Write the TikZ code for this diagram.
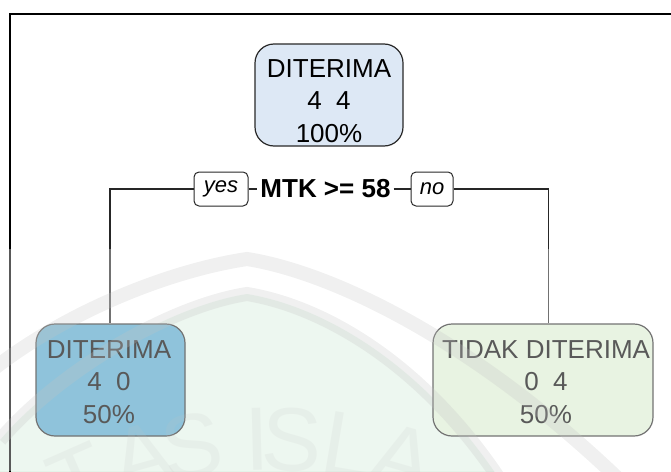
\documentclass[tikz,border=0pt]{standalone}
\usepackage{fontspec}
\setmainfont{Liberation Sans}
\usetikzlibrary{positioning}

\definecolor{wurzel}{RGB}{221,232,245}
\definecolor{blatta}{RGB}{83,164,200}
\definecolor{blattb}{RGB}{220,238,211}
\definecolor{rahmen}{RGB}{40,40,40}
\definecolor{mint}{RGB}{228,243,233}
\definecolor{band}{RGB}{195,195,195}

\begin{document}
\begin{tikzpicture}[x=1pt, y=-1pt,
		kasten/.style={draw=rahmen, line width=1.2pt, rounded corners=19pt, inner sep=0pt},
		inhalt/.style={align=center, font=\fontsize{26}{32.5}\selectfont, inner sep=0pt, anchor=north},
		zweig/.style={draw=rahmen, line width=1pt, rounded corners=5pt, inner sep=0pt, minimum height=34pt, font=\fontsize{22}{26}\selectfont\itshape},
		linie/.style={line width=1.2pt, black!85}]

		\useasboundingbox (0,0) rectangle (671,471);

		% Wasserzeichen (Hintergrund)
		\fill[mint] (0,440) .. controls (60,370) and (170,306) .. (247,294)
			.. controls (320,306) and (420,360) .. (500,480) -- (0,480) -- cycle;

		% Rahmen
		\draw[line width=2pt] (10,475) -- (10,14) -- (675,14);

		% Knoten
		\node[kasten, fill=wurzel, minimum width=148pt, minimum height=102pt] (wurzel) at (329,95) {};
		\node[inhalt] (wurzel-t) at (329,59) {DITERIMA\\4\ \ 4\\100\%};

		\node[kasten, fill=blatta, minimum width=149pt, minimum height=112pt] (links) at (110.5,380) {};
		\node[inhalt] (links-t) at (109,340) {DITERIMA\\4\ \ 0\\50\%};

		\node[kasten, fill=blattb, minimum width=220pt, minimum height=112pt] (rechts) at (543,380) {};
		\node[inhalt] (rechts-t) at (546,340) {TIDAK DITERIMA\\0\ \ 4\\50\%};

		% Split
		\node[font=\fontsize{26}{30}\selectfont\bfseries, inner xsep=3pt, inner ysep=0pt] (regel) at (325.5,189) {MTK >= 58};
		\node[zweig, minimum width=54pt] (ja) at (221,189) {yes};
		\node[zweig, minimum width=42pt] (nein) at (432,189) {no};

		% Linien
		\coordinate (ecke-l) at (110,189);
		\coordinate (ecke-r) at (548.5,189);
		\draw[linie] (ja) -- (ecke-l) -- (links.north -| ecke-l);
		\draw[linie] (ja) -- (regel);
		\draw[linie] (regel) -- (nein);
		\draw[linie] (nein) -- (ecke-r) -- (rechts.north -| ecke-r);

		% Wasserzeichen (oben)
		\fill[white, opacity=.35] (0,249) rectangle (671,471);
		\draw[band, opacity=.25, line width=14pt] (-20,380) .. controls (50,320) and (160,272) .. (247,259)
			.. controls (330,272) and (480,340) .. (640,500);
		\draw[band, opacity=.25, line width=14pt] (0,440) .. controls (60,370) and (170,306) .. (247,294)
			.. controls (320,306) and (420,360) .. (500,480);
		\foreach \b/\w [count=\i] in {T/-23.8, A/-15.7, S/-9.5, I/-1.5, S/2.6, L/9.5, A/16.3}
			\node[font=\fontsize{90}{90}\selectfont, text=band, opacity=.15, rotate={0-\w}] (wz\i)
				at ({270+473*sin(\w)}, {912-473*cos(\w)}) {\b};
	\end{tikzpicture}
\end{document}
